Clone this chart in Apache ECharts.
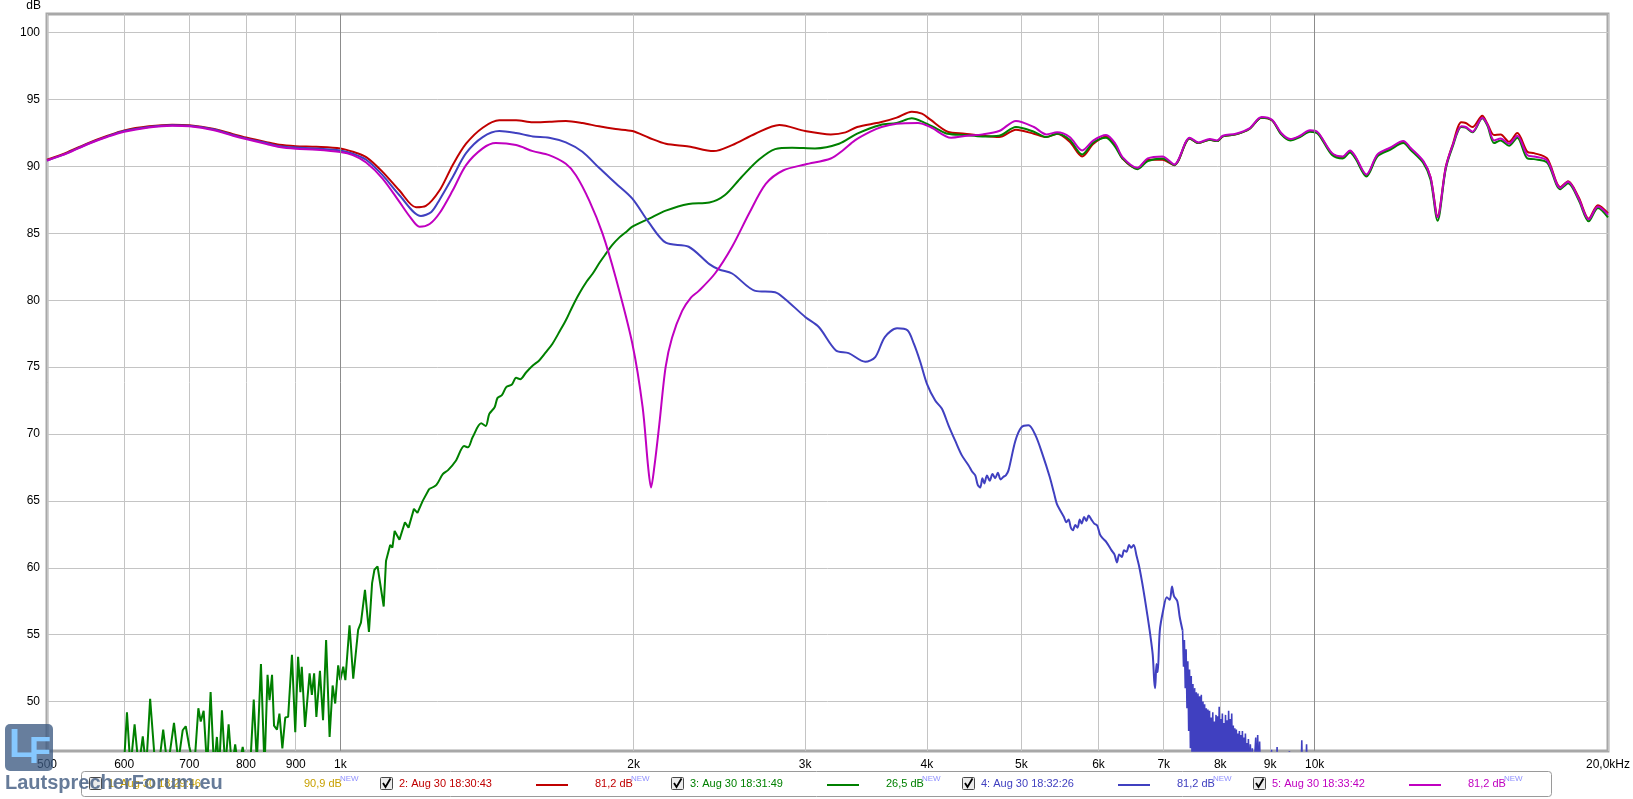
<!DOCTYPE html>
<html>
<head>
<meta charset="utf-8">
<script src="https://cdn.jsdelivr.net/npm/echarts/dist/echarts.min.js"></script>
<style>
html,body{margin:0;padding:0;background:#fff;}
#main{width:1633px;height:799px;}
</style>
</head>
<body>
<div id="main"></div>
<script>
// ---------- axis ticks ----------
const xTicks = [500,600,700,800,900,1000,2000,3000,4000,5000,6000,7000,8000,9000,10000,20000];
const yTicks = [50,55,60,65,70,75,80,85,90,95,100];
const darkGridFreqs = [1000,10000];

// ---------- series data: [frequency Hz, level dB] ----------
const redCurve = [[500,90.5],[525,91.07],[551,91.75],[577,92.3],[600,92.7],[636,93.0],[672,93.12],[700,93.08],[740,92.82],[776,92.42],[800,92.17],[840,91.82],[866,91.62],[900,91.52],[945,91.47],[1000,91.35],[1030,91.1],[1063,90.7],[1105,89.6],[1150,88.2],[1196,86.95],[1224,87.05],[1264,88.2],[1304,90.1],[1346,91.7],[1400,92.9],[1456,93.45],[1515,93.45],[1576,93.3],[1640,93.35],[1704,93.4],[1772,93.25],[1843,93.0],[1917,92.8],[1994,92.65],[2074,92.15],[2158,91.7],[2278,91.5],[2416,91.15],[2524,91.6],[2666,92.45],[2822,93.1],[3000,92.65],[3187,92.4],[3300,92.55],[3392,92.95],[3584,93.3],[3724,93.65],[3859,94.1],[3953,93.95],[4033,93.5],[4200,92.6],[4374,92.45],[4560,92.3],[4744,92.2],[4937,92.75],[5150,92.45],[5304,92.2],[5441,92.45],[5605,91.85],[5773,90.75],[5929,91.7],[6108,92.25],[6244,91.6],[6350,90.6],[6578,89.85],[6740,90.5],[6978,90.5],[7175,90.1],[7442,92.1],[7600,91.75],[7803,92.0],[7940,91.9],[8050,92.25],[8300,92.4],[8570,92.8],[8820,93.65],[9040,93.45],[9240,92.45],[9440,92.0],[9660,92.25],[9890,92.65],[10076,92.5],[10420,90.95],[10690,90.7],[10870,91.15],[11010,90.7],[11300,89.35],[11600,90.85],[11950,91.35],[12330,91.85],[12540,91.35],[12930,90.35],[13150,89.2],[13370,86.3],[13630,89.95],[13850,91.6],[14140,93.3],[14290,93.25],[14520,92.95],[14860,93.8],[15040,93.2],[15280,92.35],[15520,92.4],[15830,91.85],[16140,92.5],[16530,91.1],[16790,91.0],[17320,90.6],[17870,88.45],[18200,88.9],[18660,87.7],[19110,86.1],[19530,87.1],[20000,86.5]];

const greenNoise = [[500,44],[560,44],[590,44],[600,45.5],[604,49.2],[609,45],[615,48.3],[621,45],[627,47.4],[632,45],[638,50.2],[646,45],[652,45.5],[658,47.9],[665,45],[675,48.4],[682,45.5],[689,47.85],[694,48.15],[700,46.6],[708,45],[715,49.5],[719,48.5],[724,49.3],[730,45],[736,50.7],[742,45],[747,47.35],[751,45],[756,49.35],[762,45],[768,48.3],[774,45],[780,46.8],[786,45],[794,46.6],[800,45],[808,45],[815,50.15],[821,45.5],[829,52.8],[836,45],[842,52.0],[846,50.1],[851,52.0],[855,48.2],[861,47.9],[866,49.1],[872,46.5],[878,48.8],[884,48.85],[892,53.5],[899,47.7],[905,53.35],[910,50.7],[913,52.6],[920,48.1],[930,52.1],[935,50.5],[940,52.1],[945,48.85],[953,52.3],[960,48.6],[967,54.6],[975,47.35],[982,51.2],[988,49.85],[995,52.7],[1000,51.6],[1007,52.6],[1012,51.6],[1022,55.7],[1031,51.7],[1043,55.35],[1050,55.9],[1060,58.35],[1070,55.2],[1078,58.85],[1084,59.85],[1092,60.1],[1100,58.6],[1108,57.1],[1114,60.5],[1125,61.7],[1131,61.5],[1137,62.75],[1150,62.1],[1165,63.4],[1175,63.0],[1190,64.4],[1200,64.1],[1215,65.0],[1234,65.9]];

const greenCurve = [[1234,65.9],[1255,66.2],[1274,67.0],[1290,67.3],[1314,68.0],[1340,69.1],[1352,69.0],[1367,69.75],[1395,70.8],[1410,70.6],[1422,71.5],[1440,72.0],[1450,72.7],[1465,72.9],[1480,73.5],[1500,73.7],[1515,74.2],[1530,74.1],[1551,74.6],[1575,75.1],[1600,75.5],[1625,76.1],[1651,76.75],[1680,77.7],[1704,78.5],[1730,79.5],[1759,80.5],[1790,81.4],[1816,82.0],[1845,82.8],[1874,83.5],[1900,84.1],[1934,84.7],[1965,85.1],[1994,85.5],[2075,86.1],[2158,86.7],[2278,87.2],[2392,87.3],[2480,87.85],[2580,89.2],[2688,90.5],[2794,91.3],[2908,91.4],[3070,91.35],[3250,91.7],[3392,92.45],[3584,93.1],[3724,93.25],[3859,93.6],[3970,93.3],[4100,92.8],[4200,92.45],[4374,92.35],[4560,92.25],[4744,92.3],[4937,92.95],[5150,92.6],[5304,92.2],[5441,92.45],[5605,92.0],[5773,90.9],[5929,91.8],[6108,92.15],[6244,91.45],[6350,90.6],[6578,89.8],[6740,90.4],[6978,90.6],[7175,90.1],[7442,92.1],[7600,91.75],[7803,92.0],[7940,91.9],[8050,92.25],[8300,92.4],[8570,92.8],[8820,93.65],[9040,93.45],[9240,92.4],[9440,91.95],[9660,92.2],[9890,92.6],[10076,92.45],[10420,90.85],[10690,90.6],[10870,91.05],[11010,90.6],[11300,89.25],[11600,90.75],[11950,91.25],[12330,91.75],[12540,91.25],[12930,90.25],[13150,89.0],[13370,85.95],[13630,89.8],[13850,91.45],[14140,92.95],[14290,92.9],[14520,92.55],[14860,93.6],[15040,93.05],[15280,91.75],[15520,91.95],[15830,91.55],[16140,92.15],[16530,90.6],[16790,90.55],[17320,90.3],[17870,88.3],[18200,88.75],[18660,87.5],[19110,85.9],[19530,86.9],[20000,86.2]];

const blueCurve = [[500,90.45],[525,91.02],[551,91.7],[577,92.25],[600,92.65],[636,92.95],[672,93.08],[700,93.04],[740,92.78],[776,92.36],[800,92.1],[840,91.75],[866,91.52],[900,91.42],[945,91.35],[1000,91.2],[1030,90.95],[1063,90.5],[1105,89.35],[1150,87.85],[1210,86.3],[1240,86.6],[1264,87.5],[1304,89.2],[1346,91.0],[1400,92.2],[1456,92.65],[1515,92.5],[1576,92.25],[1638,92.15],[1704,91.8],[1772,91.1],[1843,89.9],[1917,88.75],[1994,87.6],[2074,85.8],[2158,84.3],[2278,84.0],[2392,82.7],[2448,82.3],[2524,82.0],[2666,80.7],[2794,80.6],[2860,80.1],[3000,78.75],[3098,78.0],[3226,76.25],[3324,76.05],[3457,75.4],[3540,75.75],[3621,77.25],[3727,77.9],[3820,77.75],[3878,76.75],[3937,75.4],[4000,73.75],[4079,72.5],[4143,71.9],[4209,70.65],[4276,69.5],[4344,68.4],[4414,67.65],[4450,67.2],[4484,66.9],[4510,66.2],[4537,66.0],[4560,66.7],[4580,66.3],[4610,66.9],[4640,66.5],[4670,67.0],[4700,66.7],[4730,67.1],[4760,66.6],[4793,66.8],[4820,66.9],[4851,67.3],[4930,69.5],[5000,70.5],[5085,70.65],[5170,69.9],[5255,68.5],[5346,66.8],[5400,65.6],[5436,64.8],[5480,64.3],[5529,63.8],[5560,63.4],[5590,63.6],[5620,63.0],[5647,62.8],[5680,63.2],[5710,63.0],[5740,63.6],[5766,63.3],[5800,63.8],[5830,63.5],[5862,63.9],[5900,63.6],[5940,63.3],[5982,63.15],[6020,62.5],[6061,62.2],[6100,62.0],[6140,61.7],[6188,61.3],[6230,61.0],[6268,60.4],[6300,61.0],[6340,60.8],[6373,61.3],[6410,61.2],[6450,61.7],[6481,61.5],[6520,61.7],[6564,60.9],[6600,60.2],[6648,59.0],[6690,57.8],[6733,56.5],[6780,55.0],[6820,53.5],[6845,51.5],[6860,51.0],[6880,52.8],[6900,52.2],[6935,55.3],[6990,56.8],[7050,57.8],[7100,57.6],[7138,58.6],[7170,57.9],[7228,57.5],[7270,56.3],[7319,55.3]];

const blueTail = [[7319,55.3],[7335,52.6],[7350,54.6],[7365,51.0],[7380,53.9],[7395,49.5],[7410,53.0],[7425,47.8],[7440,52.4],[7455,46.5],[7470,51.9],[7485,45.2],[7500,51.3],[7515,44.6],[7530,51.0],[7545,45.8],[7560,50.7],[7575,44.5],[7590,50.6],[7605,45.9],[7620,50.4],[7635,44.4],[7650,50.5],[7665,46.2],[7680,50.0],[7695,44.6],[7710,49.8],[7725,45.5],[7740,49.5],[7755,44.3],[7770,49.4],[7785,46.0],[7800,49.3],[7815,44.5],[7830,48.8],[7845,45.6],[7860,49.2],[7875,44.2],[7890,48.5],[7905,45.8],[7920,49.0],[7935,44.4],[7950,48.9],[7965,45.3],[7980,49.6],[7995,44.5],[8010,48.7],[8025,45.7],[8040,49.1],[8055,44.3],[8070,48.4],[8085,45.2],[8100,49.0],[8115,44.6],[8130,48.6],[8145,45.8],[8160,49.3],[8175,44.2],[8190,48.7],[8205,45.4],[8220,49.1],[8235,44.5],[8250,48.2],[8265,45.6],[8280,48.0],[8295,44.3],[8310,47.9],[8325,45.1],[8340,47.6],[8355,44.4],[8370,47.8],[8385,45.3],[8400,47.5],[8415,44.2],[8430,47.8],[8445,44.9],[8460,47.3],[8475,44.1],[8490,47.6],[8505,45.0],[8520,46.9],[8535,44.0],[8550,47.2],[8570,44.6],[8590,46.8],[8610,44.0],[8630,46.5],[8650,44.0],[8680,44.0],[8700,47.3],[8720,44.2],[8740,47.5],[8760,44.0],[8780,47.0],[8800,44.0],[8830,46.2],[8850,44.0],[9000,44.0],[9030,46.4],[9050,44.0],[9130,44.0],[9150,46.6],[9170,44.0],[9400,44.0],[9420,46.3],[9440,44.0],[9680,44.0],[9700,47.1],[9720,44.0],[9790,44.0],[9810,46.8],[9830,44.0],[10000,44.0]];

const magentaCurve = [[500,90.45],[525,91.0],[551,91.68],[577,92.22],[600,92.6],[636,92.92],[672,93.05],[700,93.0],[740,92.72],[776,92.3],[800,92.05],[840,91.68],[866,91.45],[900,91.32],[945,91.25],[1000,91.08],[1030,90.85],[1063,90.3],[1105,89.1],[1150,87.35],[1180,86.2],[1206,85.5],[1235,85.7],[1264,86.5],[1304,88.2],[1346,90.1],[1400,91.35],[1444,91.75],[1515,91.6],[1576,91.15],[1638,90.85],[1704,90.2],[1745,89.35],[1801,87.45],[1858,85.0],[1917,81.7],[1994,76.75],[2043,72.0],[2070,67.5],[2084,66.0],[2100,67.5],[2125,70.7],[2157,75.0],[2190,77.2],[2243,79.2],[2290,80.2],[2333,80.7],[2424,82.0],[2524,84.0],[2628,86.5],[2733,88.7],[2847,89.7],[3000,90.15],[3187,90.6],[3278,91.2],[3374,91.95],[3500,92.6],[3593,92.95],[3724,93.2],[3916,93.25],[4033,92.95],[4235,92.15],[4400,92.3],[4560,92.4],[4744,92.65],[4937,93.4],[5150,92.95],[5304,92.4],[5441,92.55],[5605,92.2],[5773,91.2],[5929,91.95],[6108,92.35],[6244,91.7],[6350,90.7],[6578,89.9],[6740,90.6],[6978,90.75],[7175,90.15],[7442,92.15],[7600,91.8],[7803,92.05],[7940,91.95],[8050,92.3],[8300,92.45],[8570,92.85],[8820,93.7],[9040,93.5],[9240,92.5],[9440,92.05],[9660,92.3],[9890,92.7],[10076,92.55],[10420,91.0],[10690,90.75],[10870,91.2],[11010,90.75],[11300,89.4],[11600,90.9],[11950,91.4],[12330,91.9],[12540,91.4],[12930,90.4],[13150,89.2],[13370,86.2],[13630,89.9],[13850,91.55],[14140,93.0],[14290,92.95],[14520,92.6],[14860,93.65],[15040,93.15],[15280,91.95],[15520,92.1],[15830,91.7],[16140,92.3],[16530,90.85],[16790,90.75],[17320,90.45],[17870,88.4],[18200,88.85],[18660,87.6],[19110,86.05],[19530,87.0],[20000,86.4]];

// ---------- legend texts ----------
const legendLabels = ['1: Aug 30 18:29:46','2: Aug 30 18:30:43','3: Aug 30 18:31:49','4: Aug 30 18:32:26','5: Aug 30 18:33:42'];
const legendValues = ['90,9 dB','81,2 dB','26,5 dB','81,2 dB','81,2 dB'];
const legendChecked = [false,true,true,true,true];

// ---------- styling ----------
const colors = ['#c8a000','#c00000','#008000','#4040c0','#c000c0'];
const FONT = '"Liberation Sans", Arial, sans-serif';

function fmtX(v){
  const r = Math.round(v);
  if (r === 20000) return '20,0kHz';
  if (r >= 1000) return (r/1000) + 'k';
  return String(r);
}

const g = [];
g.push({type:'text', x:41, y:6, style:{text:'dB', fill:'#000', font:'12px '+FONT, textAlign:'right', textVerticalAlign:'middle', align:'right', verticalAlign:'middle'}});
g.push({type:'rect', shape:{x:81.5,y:771.5,width:1470,height:25,r:3}, style:{fill:'#fff', stroke:'#9a9a9a', lineWidth:1}, z:10});
legendLabels.forEach(function(lab,i){
  const bx = 89 + i*291;
  const c = colors[i];
  g.push({type:'rect', shape:{x:bx+0.5,y:777.5,width:12,height:12,r:1}, style:{fill:'#ececec', stroke:'#4a4a4a', lineWidth:1}, z:11});
  if (legendChecked[i]) {
    g.push({type:'polyline', shape:{points:[[bx+3,783],[bx+5.5,787],[bx+10.5,778.5]]}, style:{stroke:'#000', lineWidth:1.8, fill:null}, z:12});
    g.push({type:'line', shape:{x1:bx+156,y1:785,x2:bx+188,y2:785}, style:{stroke:c, lineWidth:2}, z:11});
  }
  g.push({type:'text', x:bx+19, y:784, style:{text:lab, fill:c, font:'11px '+FONT, textVerticalAlign:'middle', verticalAlign:'middle'}, z:11});
  g.push({type:'text', x:bx+215, y:784, style:{text:legendValues[i], fill:c, font:'11px '+FONT, textVerticalAlign:'middle', verticalAlign:'middle'}, z:11});
  g.push({type:'text', x:bx+251, y:779, style:{text:'NEW', fill:'#9090ff', font:'8px '+FONT, textVerticalAlign:'middle', verticalAlign:'middle'}, z:11});
});
// watermark
g.push({type:'rect', shape:{x:5,y:724,width:48,height:47,r:5}, style:{fill:'rgba(60,90,130,0.78)'}, z:20});
g.push({type:'text', x:9, y:726, style:{text:'L', fill:'#86c8ff', font:'bold 40px '+FONT}, z:21});
g.push({type:'text', x:29, y:735, style:{text:'F', fill:'#86c8ff', font:'bold 36px '+FONT}, z:21});
g.push({type:'text', x:5, y:783, style:{text:'LautsprecherForum.eu', fill:'rgba(75,100,135,0.85)', font:'bold 20px '+FONT, textVerticalAlign:'middle', verticalAlign:'middle'}, z:21});

const lineBase = {type:'line', showSymbol:false, symbol:'none', silent:true, clip:true};

const option = {
  animation:false,
  backgroundColor:'#ffffff',
  grid:{left:47, right:22, top:14, bottom:48, show:true, borderColor:'#a8a8a8', borderWidth:3, backgroundColor:'#fff'},
  xAxis:{
    type:'log', logBase:10, min:500, max:20000,
    axisLine:{show:false},
    axisTick:{show:false, customValues:xTicks},
    axisLabel:{customValues:xTicks, formatter:fmtX, color:'#000', fontSize:12, fontFamily:'Liberation Sans', margin:8},
    splitLine:{show:true, lineStyle:{color:'#c4c4c4', width:1}}
  },
  yAxis:{
    type:'value', min:46.3, max:101.4,
    axisLine:{show:false},
    axisTick:{show:false, customValues:yTicks},
    axisLabel:{customValues:yTicks, color:'#000', fontSize:12, fontFamily:'Liberation Sans', margin:7},
    splitLine:{show:true, lineStyle:{color:'#c4c4c4', width:1}}
  },
  series:[
    {type:'line', data:[], z:1, silent:true,
     markLine:{silent:true, symbol:['none','none'], animation:false, label:{show:false},
       lineStyle:{color:'#8c8c8c', width:1, type:'solid'},
       data:darkGridFreqs.map(function(f){return {xAxis:f};})}},
    Object.assign({}, lineBase, {name:'2', data:redCurve, smooth:0.3, lineStyle:{color:colors[1], width:2}}),
    Object.assign({}, lineBase, {name:'3n', data:greenNoise, smooth:false, lineStyle:{color:colors[2], width:2}}),
    Object.assign({}, lineBase, {name:'3', data:greenCurve, smooth:0.3, lineStyle:{color:colors[2], width:2}}),
    Object.assign({}, lineBase, {name:'4', data:blueCurve, smooth:0.3, lineStyle:{color:colors[3], width:2}}),
    Object.assign({}, lineBase, {name:'4t', data:blueTail, smooth:false, lineStyle:{color:colors[3], width:1.6}}),
    Object.assign({}, lineBase, {name:'5', data:magentaCurve, smooth:0.3, lineStyle:{color:colors[4], width:2}})
  ],
  graphic:{elements:g}
};

const chart = echarts.init(document.getElementById('main'));
chart.setOption(option);
</script>
</body>
</html>
